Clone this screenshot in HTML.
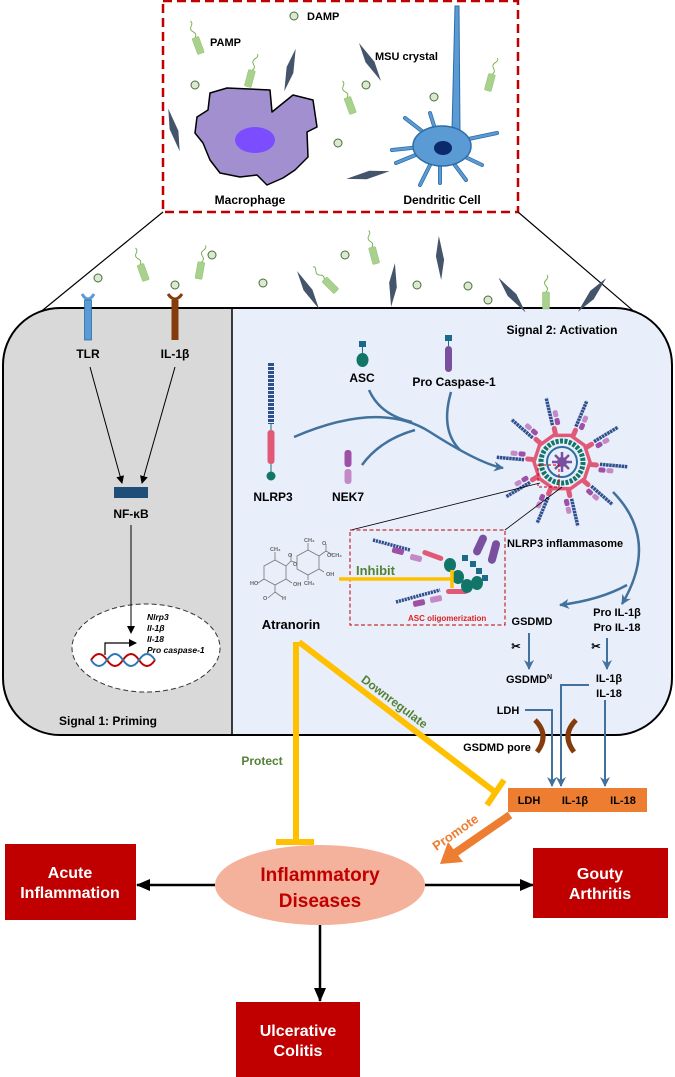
<!DOCTYPE html>
<html><head><meta charset="utf-8"><style>
html,body{margin:0;padding:0;background:#fff}
svg{display:block}
text{font-family:"Liberation Sans",Arial,sans-serif;font-weight:bold}
</style></head><body>
<svg width="675" height="1077" viewBox="0 0 675 1077" xmlns="http://www.w3.org/2000/svg">
<defs>
<g id="bac"><path d="M0,-8 q3,-3 0,-6 q-3,-3 0,-6 q3,-3 1,-5" fill="none" stroke="#70ad47" stroke-width="0.9"/><rect x="-3.5" y="-8" width="7" height="17" rx="1" fill="#a9d18e" stroke="#8fbf6e" stroke-width="0.5"/></g>
<circle id="dmp" r="4" fill="#d9ead3" stroke="#4e6b3a" stroke-width="1"/>
<path id="cry" d="M0,-22 L4,2 L0,22 L-4,-2 Z" fill="#44546a"/>
<g id="spk"><rect x="27" y="-2.5" width="10" height="5" rx="2.5" fill="#e05a78"/><rect x="37" y="2" width="7" height="5" rx="2" fill="#9e4fa6"/><rect x="45" y="2" width="7" height="5" rx="2" fill="#c48ac8"/><line x1="38" y1="-1" x2="66" y2="-1" stroke="#2f4f8f" stroke-width="3.5" stroke-dasharray="2.5 0.6"/></g>
<clipPath id="cell"><path d="M60,308 H615 A57,57 0 0 1 672,365 V678 A57,57 0 0 1 615,735 H60 A57,57 0 0 1 3,678 V365 A57,57 0 0 1 60,308 Z"/></clipPath>
<marker id="ab" markerWidth="8" markerHeight="8" refX="7" refY="4" orient="auto" markerUnits="userSpaceOnUse"><path d="M0,0 L8,4 L0,8 Z" fill="#000"/></marker>
<marker id="abl" markerWidth="10" markerHeight="10" refX="9" refY="5" orient="auto" markerUnits="userSpaceOnUse"><path d="M0,0 L10,5 L0,10 L3,5 Z" fill="#41719c"/></marker>
<marker id="abk" markerWidth="14" markerHeight="12" refX="13" refY="6" orient="auto" markerUnits="userSpaceOnUse"><path d="M0,0 L14,6 L0,12 Z" fill="#000"/></marker>
</defs>

<rect x="163" y="1" width="355" height="211" fill="none" stroke="#c00000" stroke-width="2.5" stroke-dasharray="9 5"/>
<line x1="163" y1="212" x2="38" y2="314" stroke="#000" stroke-width="1.2"/>
<line x1="518" y1="212" x2="637" y2="314" stroke="#000" stroke-width="1.2"/>

<polygon points="210,93 227,88 270,90 272,112 293,95 313,100 317,127 307,132 308,157 295,170 283,178 267,185 257,175 240,177 220,173 210,160 203,143 195,133 197,117 208,110" fill="#a28fd0" stroke="#000" stroke-width="1.5" stroke-linejoin="round"/>
<ellipse cx="255" cy="140" rx="20" ry="13" fill="#7b4dff"/>
<g stroke="#2e6da4" stroke-width="4" stroke-linecap="round" fill="none">
<line x1="440" y1="145" x2="405" y2="118"/><line x1="440" y1="145" x2="392" y2="150"/><line x1="440" y1="145" x2="396" y2="163"/><line x1="440" y1="145" x2="420" y2="185"/><line x1="440" y1="145" x2="440" y2="183"/><line x1="440" y1="145" x2="466" y2="180"/><line x1="440" y1="145" x2="482" y2="165"/><line x1="440" y1="145" x2="497" y2="133"/><line x1="440" y1="145" x2="430" y2="113"/>
</g>
<g stroke="#5b9bd5" stroke-width="2.5" stroke-linecap="round" fill="none">
<line x1="440" y1="145" x2="405" y2="118"/><line x1="440" y1="145" x2="392" y2="150"/><line x1="440" y1="145" x2="396" y2="163"/><line x1="440" y1="145" x2="420" y2="185"/><line x1="440" y1="145" x2="440" y2="183"/><line x1="440" y1="145" x2="466" y2="180"/><line x1="440" y1="145" x2="482" y2="165"/><line x1="440" y1="145" x2="497" y2="133"/><line x1="440" y1="145" x2="430" y2="113"/>
</g>
<path d="M452,130 L455,6 L459,6 L460,130 Z" fill="#5b9bd5" stroke="#2e6da4" stroke-width="1"/>
<ellipse cx="442" cy="146" rx="29" ry="20" fill="#5b9bd5" stroke="#2e6da4" stroke-width="1.5"/>
<ellipse cx="443" cy="148" rx="9" ry="7" fill="#0b2a6b"/>

<use href="#bac" transform="translate(198,45) rotate(-20)"/>
<use href="#bac" transform="translate(250,78) rotate(15)"/>
<use href="#bac" transform="translate(350,105) rotate(-20)"/>
<use href="#bac" transform="translate(490,82) rotate(15)"/>
<use href="#dmp" x="294" y="16"/><use href="#dmp" x="195" y="85"/><use href="#dmp" x="366" y="85"/><use href="#dmp" x="338" y="143"/><use href="#dmp" x="434" y="97"/>
<use href="#cry" transform="translate(174,130) rotate(-15)"/>
<use href="#cry" transform="translate(290,70) rotate(15)"/>
<use href="#cry" transform="translate(370,62) rotate(-30)"/>
<use href="#cry" transform="translate(368,175) rotate(80)"/>
<text x="210" y="46" font-size="11">PAMP</text>
<text x="307" y="20" font-size="11">DAMP</text>
<text x="375" y="60" font-size="11">MSU crystal</text>
<text x="250" y="204" font-size="12" text-anchor="middle">Macrophage</text>
<text x="442" y="204" font-size="12" text-anchor="middle">Dendritic Cell</text>

<g clip-path="url(#cell)">
<rect x="0" y="300" width="675" height="440" fill="#e8eefa"/>
<rect x="0" y="300" width="232" height="440" fill="#d9d9d9"/>
</g>
<line x1="232" y1="308" x2="232" y2="735" stroke="#000" stroke-width="1.5"/>
<path d="M60,308 H615 A57,57 0 0 1 672,365 V678 A57,57 0 0 1 615,735 H60 A57,57 0 0 1 3,678 V365 A57,57 0 0 1 60,308 Z" fill="none" stroke="#000" stroke-width="2"/>

<use href="#bac" transform="translate(143,272) rotate(-20)"/>
<use href="#bac" transform="translate(200,270) rotate(10)"/>
<use href="#bac" transform="translate(330,285) rotate(-45)"/>
<use href="#bac" transform="translate(374,255) rotate(-15)"/>
<use href="#bac" transform="translate(546,300) rotate(0)"/>
<use href="#dmp" x="98" y="278"/><use href="#dmp" x="175" y="285"/><use href="#dmp" x="263" y="283"/><use href="#dmp" x="417" y="285"/><use href="#dmp" x="468" y="286"/><use href="#dmp" x="488" y="300"/><use href="#dmp" x="212" y="255"/><use href="#dmp" x="345" y="255"/>
<use href="#cry" transform="translate(308,290) rotate(-30)"/>
<use href="#cry" transform="translate(393,285) rotate(5)"/>
<use href="#cry" transform="translate(440,258) rotate(-3)"/>
<use href="#cry" transform="translate(512,295) rotate(-38)"/>
<use href="#cry" transform="translate(592,295) rotate(40)"/>

<path d="M82,294 q6,10 12,0" fill="none" stroke="#5b9bd5" stroke-width="3"/>
<rect x="84.5" y="300" width="7" height="40" fill="#5b9bd5" stroke="#2e6da4" stroke-width="0.8"/>
<path d="M168,294 q7,10 14,0" fill="none" stroke="#843c0c" stroke-width="3"/>
<rect x="171.5" y="300" width="7" height="40" fill="#843c0c"/>
<text x="88" y="358" font-size="12" text-anchor="middle">TLR</text>
<text x="175" y="358" font-size="12" text-anchor="middle">IL-1β</text>
<line x1="90" y1="367" x2="122" y2="483" stroke="#000" stroke-width="1" marker-end="url(#ab)"/>
<line x1="175" y1="367" x2="142" y2="483" stroke="#000" stroke-width="1" marker-end="url(#ab)"/>
<rect x="114" y="487" width="34" height="11" fill="#1f4e79"/>
<text x="131" y="518" font-size="12" text-anchor="middle">NF-κB</text>
<ellipse cx="146" cy="648" rx="74" ry="44" fill="#fff" stroke="#333" stroke-width="1" stroke-dasharray="5 3"/>
<line x1="131" y1="525" x2="131" y2="633" stroke="#000" stroke-width="1" marker-end="url(#ab)"/>
<g font-size="8.5" font-style="italic"><text x="147" y="620">Nlrp3</text><text x="147" y="631">Il-1β</text><text x="147" y="642">Il-18</text><text x="147" y="653">Pro caspase-1</text></g>
<path d="M105,655 V643 H136" fill="none" stroke="#000" stroke-width="1.2" marker-end="url(#ab)"/>
<path d="M91,660 q8,-12 16,0 t16,0 t16,0 t16,0" fill="none" stroke="#c00000" stroke-width="2"/>
<path d="M91,660 q8,12 16,0 t16,0 t16,0 t16,0" fill="none" stroke="#2e75b6" stroke-width="2"/>
<text x="108" y="725" font-size="12" text-anchor="middle">Signal 1: Priming</text>

<text x="562" y="334" font-size="12" text-anchor="middle">Signal 2: Activation</text>
<rect x="359" y="341" width="7" height="6" fill="#1b6a8a"/><line x1="362.5" y1="347" x2="362.5" y2="353" stroke="#1b6a8a"/><ellipse cx="362.5" cy="360" rx="6" ry="7" fill="#117568"/>
<text x="362" y="382" font-size="12" text-anchor="middle">ASC</text>
<rect x="445" y="335" width="7" height="6" fill="#1b6a8a"/><line x1="448.5" y1="341" x2="448.5" y2="346" stroke="#1b6a8a"/><rect x="445" y="346" width="7" height="26" rx="3.5" fill="#7a4fa0"/>
<text x="454" y="386" font-size="12" text-anchor="middle">Pro Caspase-1</text>
<line x1="271" y1="363" x2="271" y2="424" stroke="#2f4f8f" stroke-width="6" stroke-dasharray="3 1"/>
<line x1="271" y1="424" x2="271" y2="476" stroke="#117568" stroke-width="1"/>
<rect x="267.5" y="430" width="7" height="34" rx="3" fill="#e05a78"/>
<circle cx="271" cy="476" r="4.5" fill="#117568"/>
<text x="273" y="501" font-size="12" text-anchor="middle">NLRP3</text>
<rect x="344.5" y="450" width="7" height="17" rx="3" fill="#9e4fa6"/><rect x="344.5" y="469" width="7" height="15" rx="3" fill="#c48ac8"/>
<text x="348" y="501" font-size="12" text-anchor="middle">NEK7</text>
<g fill="none" stroke="#41719c" stroke-width="2.5">
<path d="M294,437 Q380,400 430,432 T503,468" marker-end="url(#abl)"/>
<path d="M369,390 Q380,415 412,422"/>
<path d="M451,392 Q440,430 460,450"/>
<path d="M362,465 Q380,440 415,430"/>
<path d="M613,492 Q660,540 622,604" marker-end="url(#abl)"/>
<path d="M627,585 Q600,600 560,605" marker-end="url(#abl)"/>
</g>
<g transform="translate(562,462)">
<use href="#spk" transform="rotate(5)"/><use href="#spk" transform="rotate(41)"/><use href="#spk" transform="rotate(77)"/><use href="#spk" transform="rotate(113)"/><use href="#spk" transform="rotate(149)"/><use href="#spk" transform="rotate(185)"/><use href="#spk" transform="rotate(221)"/><use href="#spk" transform="rotate(257)"/><use href="#spk" transform="rotate(293)"/><use href="#spk" transform="rotate(329)"/>
<polygon points="28,0 22.6,16.5 8.7,26.6 -8.7,26.6 -22.6,16.5 -28,0 -22.6,-16.5 -8.7,-26.6 8.7,-26.6 22.6,-16.5" fill="none" stroke="#e05a78" stroke-width="3.5"/>
<circle r="21" fill="none" stroke="#117568" stroke-width="5" stroke-dasharray="3 1.4"/>
<circle r="15" fill="#e8eefa" stroke="#2e6da4" stroke-width="2"/>
<g stroke="#7a4fa0" stroke-width="2.5"><line x1="-10" y1="0" x2="10" y2="0"/><line x1="0" y1="-10" x2="0" y2="10"/><line x1="-7" y1="-7" x2="7" y2="7"/><line x1="-7" y1="7" x2="7" y2="-7"/></g><circle r="5" fill="#7a4fa0"/>
<rect x="-24" y="3" width="21" height="22" fill="none" stroke="#c00000" stroke-dasharray="3 2"/>
</g>
<line x1="540" y1="483" x2="351" y2="530" stroke="#000" stroke-width="0.8"/>
<line x1="562" y1="487" x2="505" y2="530" stroke="#000" stroke-width="0.8"/>
<rect x="350" y="530" width="155" height="95" fill="none" stroke="#c00000" stroke-width="1" stroke-dasharray="4 2.5"/>
<line x1="373" y1="540" x2="410" y2="550" stroke="#2f4f8f" stroke-width="3.5" stroke-dasharray="2.2 0.8"/>
<rect x="392" y="548" width="12" height="6" rx="2" fill="#9e4fa6" transform="rotate(15 398 551)"/><rect x="410" y="555" width="12" height="6" rx="2" fill="#c48ac8" transform="rotate(15 416 558)"/>
<rect x="422" y="553" width="22" height="5" rx="2.5" fill="#e05a78" transform="rotate(20 433 555)"/>
<line x1="396" y1="602" x2="440" y2="590" stroke="#2f4f8f" stroke-width="3.5" stroke-dasharray="2.2 0.8"/>
<rect x="413" y="600" width="12" height="6" rx="2" fill="#9e4fa6" transform="rotate(-12 419 603)"/><rect x="430" y="596" width="12" height="6" rx="2" fill="#c48ac8" transform="rotate(-12 436 599)"/>
<rect x="446" y="589" width="22" height="5" rx="2.5" fill="#e05a78"/>
<g fill="#117568"><ellipse cx="450" cy="565" rx="6" ry="7"/><ellipse cx="458" cy="577" rx="6" ry="7"/><ellipse cx="467" cy="586" rx="6" ry="7"/><ellipse cx="477" cy="583" rx="6" ry="7"/></g>
<g fill="#1b6a8a"><rect x="462" y="555" width="6" height="6"/><rect x="470" y="561" width="6" height="6"/><rect x="476" y="568" width="6" height="6"/><rect x="482" y="575" width="6" height="6"/></g>
<rect x="476" y="534" width="8" height="22" rx="4" fill="#7a4fa0" transform="rotate(25 480 545)"/>
<rect x="490" y="540" width="8" height="24" rx="4" fill="#7a4fa0" transform="rotate(15 494 552)"/>
<text x="507" y="547" font-size="11">NLRP3 inflammasome</text>
<text x="408" y="621" font-size="8" fill="#e02020">ASC oligomerization</text>
<text x="356" y="575" font-size="13" fill="#548235">Inhibit</text>
<line x1="339" y1="579" x2="452" y2="579" stroke="#ffc000" stroke-width="3.5"/><line x1="452" y1="570" x2="452" y2="588" stroke="#ffc000" stroke-width="3.5"/>
<g fill="none" stroke="#777" stroke-width="0.8">
<polygon points="264,566 275,560 286,566 286,579 275,585 264,579"/>
<polygon points="297,556 308,550 319,556 319,569 308,575 297,569"/>
<path d="M275,560 V552 M286,566 L291,561 L297,563 M291,561 V554 M264,579 L258,583 M286,579 L292,583 M275,585 V592 L268,598 M275,592 L282,597 M308,550 V543 M319,556 L326,551 L326,544 M326,551 L333,555 M308,575 V580 M319,569 L324,572"/>
</g>
<g font-size="5.5" fill="#666" font-weight="normal"><text x="270" y="551">CH₃</text><text x="304" y="542">CH₃</text><text x="327" y="557">OCH₃</text><text x="326" y="576">OH</text><text x="293" y="586">OH</text><text x="250" y="585">HO</text><text x="304" y="585">CH₃</text><text x="282" y="600">H</text><text x="263" y="600">O</text><text x="293" y="566">O</text><text x="322" y="545">O</text><text x="288" y="557">O</text></g>
<text x="291" y="629" font-size="13" text-anchor="middle">Atranorin</text>
<text x="532" y="625" font-size="11" text-anchor="middle">GSDMD</text>
<text x="617" y="616" font-size="11" text-anchor="middle">Pro IL-1β</text>
<text x="617" y="631" font-size="11" text-anchor="middle">Pro IL-18</text>
<text x="516" y="650" font-size="11" text-anchor="middle">✂</text><text x="596" y="650" font-size="11" text-anchor="middle">✂</text>
<line x1="529" y1="633" x2="529" y2="669" stroke="#41719c" stroke-width="2" marker-end="url(#abl)"/>
<line x1="607" y1="638" x2="607" y2="669" stroke="#41719c" stroke-width="2" marker-end="url(#abl)"/>
<text x="506" y="683" font-size="11">GSDMD<tspan font-size="7" dy="-4">N</tspan></text>
<text x="609" y="682" font-size="11" text-anchor="middle">IL-1β</text>
<text x="609" y="697" font-size="11" text-anchor="middle">IL-18</text>
<text x="508" y="714" font-size="11" text-anchor="middle">LDH</text>
<g fill="none" stroke="#41719c" stroke-width="2">
<path d="M525,710 H552 V786" marker-end="url(#abl)"/>
<path d="M589,685 H561 V786" marker-end="url(#abl)"/>
<path d="M605,700 V786" marker-end="url(#abl)"/>
</g>
<path d="M535,720 Q550,735 537,752" fill="none" stroke="#843c0c" stroke-width="5"/>
<path d="M576,720 Q561,735 574,752" fill="none" stroke="#843c0c" stroke-width="5"/>
<text x="497" y="751" font-size="11" text-anchor="middle">GSDMD pore</text>
<rect x="508" y="788" width="139" height="24" fill="#ed7d31"/>
<text x="529" y="804" font-size="11" text-anchor="middle">LDH</text>
<text x="575" y="804" font-size="11" text-anchor="middle">IL-1β</text>
<text x="623" y="804" font-size="11" text-anchor="middle">IL-18</text>
<line x1="296" y1="642" x2="296" y2="842" stroke="#ffc000" stroke-width="6"/>
<line x1="276" y1="842" x2="314" y2="842" stroke="#ffc000" stroke-width="6"/>
<line x1="299" y1="642" x2="495" y2="792" stroke="#ffc000" stroke-width="6"/>
<line x1="504" y1="780" x2="487" y2="805" stroke="#ffc000" stroke-width="6"/>
<text x="262" y="765" font-size="12" fill="#548235" text-anchor="middle">Protect</text>
<text transform="translate(392,705) rotate(37)" font-size="12" fill="#548235" text-anchor="middle">Downregulate</text>
<line x1="510" y1="815" x2="455" y2="853" stroke="#ed7d31" stroke-width="8"/>
<path d="M440,864 L448,842 L463,862 Z" fill="#ed7d31"/>
<text transform="translate(458,836) rotate(-35)" font-size="13" fill="#ed7d31" text-anchor="middle">Promote</text>
<ellipse cx="320" cy="885" rx="105" ry="40" fill="#f4b19b"/>
<text x="320" y="881" font-size="19" fill="#c00000" text-anchor="middle">Inflammatory</text>
<text x="320" y="907" font-size="19" fill="#c00000" text-anchor="middle">Diseases</text>
<line x1="215" y1="885" x2="137" y2="885" stroke="#000" stroke-width="2.5" marker-end="url(#abk)"/>
<line x1="425" y1="885" x2="533" y2="885" stroke="#000" stroke-width="2.5" marker-end="url(#abk)"/>
<line x1="320" y1="925" x2="320" y2="1001" stroke="#000" stroke-width="2.5" marker-end="url(#abk)"/>
<rect x="5" y="844" width="131" height="76" fill="#c00000"/>
<text x="70" y="878" font-size="16" fill="#fff" text-anchor="middle">Acute</text><text x="70" y="898" font-size="16" fill="#fff" text-anchor="middle">Inflammation</text>
<rect x="533" y="848" width="135" height="70" fill="#c00000"/>
<text x="600" y="879" font-size="16" fill="#fff" text-anchor="middle">Gouty</text><text x="600" y="899" font-size="16" fill="#fff" text-anchor="middle">Arthritis</text>
<rect x="236" y="1002" width="124" height="75" fill="#c00000"/>
<text x="298" y="1036" font-size="16" fill="#fff" text-anchor="middle">Ulcerative</text><text x="298" y="1056" font-size="16" fill="#fff" text-anchor="middle">Colitis</text>
</svg>
</body></html>
